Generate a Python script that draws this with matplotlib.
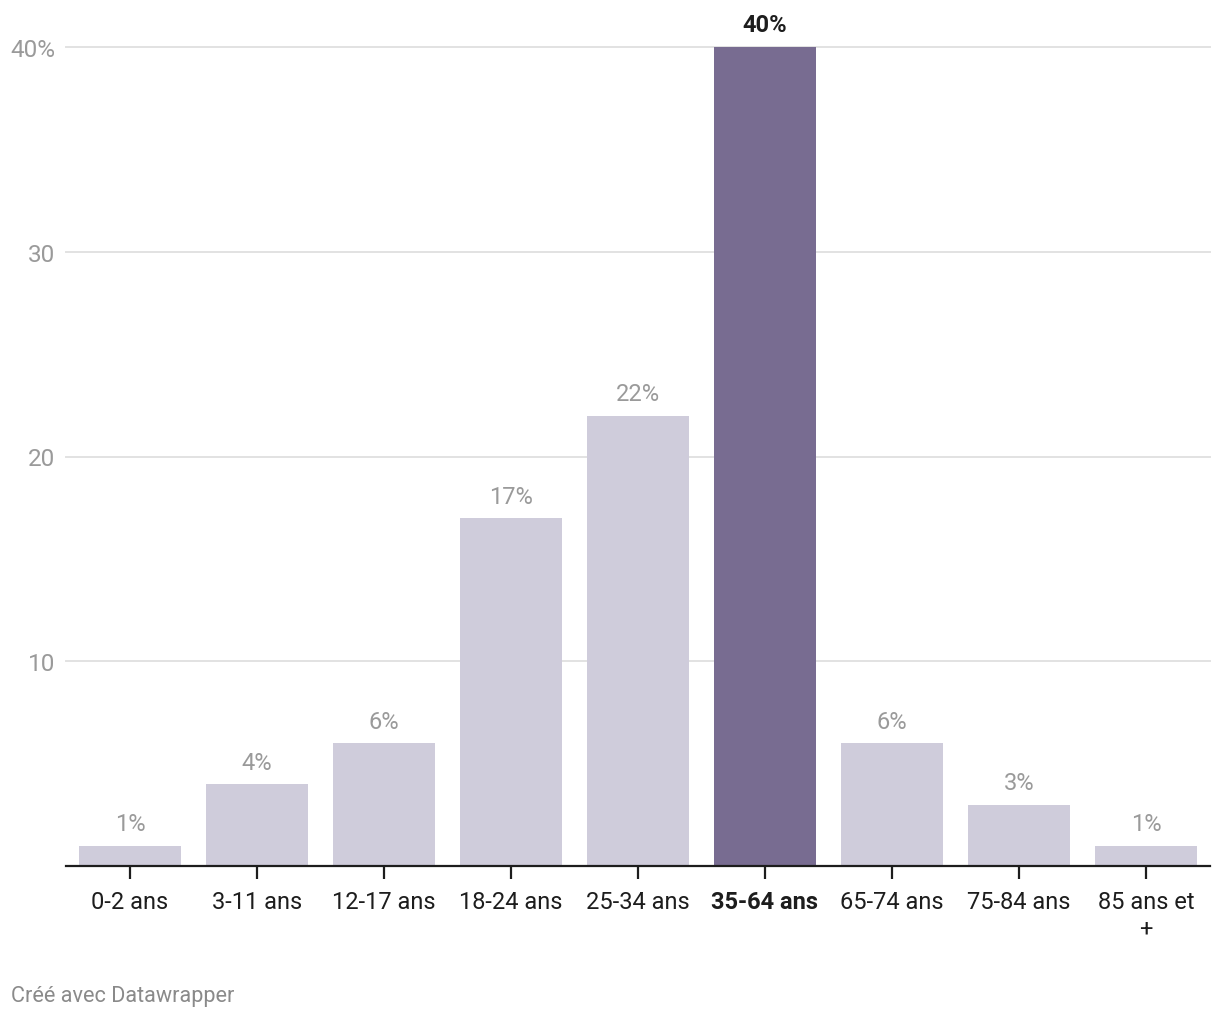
import matplotlib
matplotlib.use("Agg")
import matplotlib.pyplot as plt

plt.rcParams['font.family'] = ['Roboto', 'DejaVu Sans']

# Data
categories = ["0-2 ans", "3-11 ans", "12-17 ans", "18-24 ans", "25-34 ans",
              "35-64 ans", "65-74 ans", "75-84 ans", "85 ans et\n+"]
values = [1, 4, 6, 17, 22, 40, 6, 3, 1]
highlight = "35-64 ans"
yticks = [10, 20, 30, 40]
ytick_labels = ["10", "20", "30", "40%"]

fig = plt.figure(figsize=(12.2, 10.2), dpi=100)
ax = fig.add_axes([66 / 1220, 1 - 867 / 1020, 1144 / 1220, 819 / 1020])

colors = ["#786c91" if c == highlight else "#cfccdb" for c in categories]
xs = range(len(categories))
ax.bar(xs, values, width=0.81, color=colors, zorder=2)

# Value labels above bars
for x, v, c in zip(xs, values, categories):
    if c == highlight:
        ax.text(x, v + 0.55, f"{v}%", ha="center", va="bottom", fontsize=17,
                fontweight="bold", color="#1d1d1d", clip_on=False)
    else:
        ax.text(x, v + 0.5, f"{v}%", ha="center", va="bottom", fontsize=17,
                color="#9a9a9a")

ax.set_xlim(-0.504, len(categories) - 1 + 0.504)
ax.set_ylim(0, 40)

# Gridlines
for y in yticks:
    ax.axhline(y, color="#e2e2e2", lw=1.4, zorder=1, clip_on=False)

ax.set_yticks(yticks)
ax.set_yticklabels(ytick_labels)
ax.tick_params(axis="y", length=0, pad=8, labelsize=17.5, labelcolor="#9a9a9a")

ax.set_xticks(list(xs))
ax.set_xticklabels(categories, linespacing=1.2)
ax.tick_params(axis="x", length=9, width=1.6, color="#1d1d1d", pad=8,
               labelsize=17, labelcolor="#1d1d1d")
for lbl in ax.get_xticklabels():
    if lbl.get_text() == highlight:
        lbl.set_fontweight("bold")

for side in ["top", "right", "left"]:
    ax.spines[side].set_visible(False)
ax.spines["bottom"].set_color("#1d1d1d")
ax.spines["bottom"].set_linewidth(1.6)
ax.spines["bottom"].set_zorder(3)

fig.text(11 / 1220, 1 - 997 / 1020, "Créé avec Datawrapper", ha="left", va="center",
         fontsize=15.6, color="#8a8a8a")

fig.savefig("out.png", dpi=100)
